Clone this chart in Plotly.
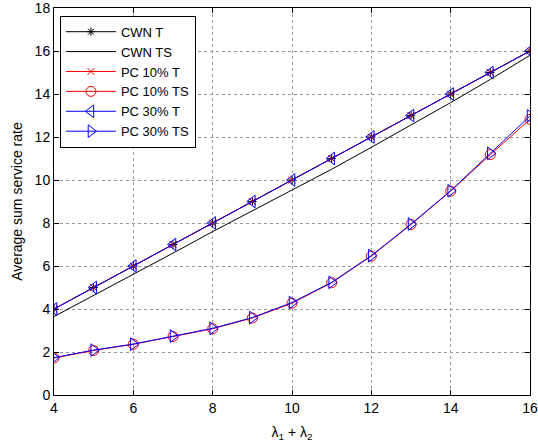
import plotly.graph_objects as go

x = [4, 5, 6, 7, 8, 9, 10, 11, 12, 13, 14, 15, 16]
cwn_t = [4, 5, 6, 7, 8, 9, 10, 11, 12, 13, 14, 15, 16]
cwn_ts = [3.65, 4.63, 5.6, 6.6, 7.6, 8.56, 9.52, 10.5, 11.52, 12.56, 13.6, 14.68, 15.8]
pc10_t = [4, 5, 6, 7, 8, 9, 10, 11, 12, 13, 14, 15, 16]
pc10_ts = [1.72, 2.07, 2.36, 2.72, 3.08, 3.58, 4.27, 5.22, 6.46, 7.93, 9.48, 11.18, 12.82]
pc30_t = [4, 5, 6, 7, 8, 9, 10, 11, 12, 13, 14, 15, 16]
pc30_ts = [1.74, 2.09, 2.37, 2.74, 3.1, 3.6, 4.3, 5.24, 6.48, 7.95, 9.5, 11.24, 12.98]

x_ticks = [4, 6, 8, 10, 12, 14, 16]
y_ticks = [0, 2, 4, 6, 8, 10, 12, 14, 16, 18]

fig = go.Figure()
fig.add_trace(go.Scatter(x=x, y=cwn_t, name="CWN T", mode="lines+markers",
                         line=dict(color="black", width=1),
                         marker=dict(symbol="asterisk-open", size=7, color="black", line=dict(width=1, color="black"))))
fig.add_trace(go.Scatter(x=x, y=cwn_ts, name="CWN TS", mode="lines",
                         line=dict(color="black", width=1)))
fig.add_trace(go.Scatter(x=x, y=pc10_t, name="PC 10% T", mode="lines+markers",
                         line=dict(color="red", width=1),
                         marker=dict(symbol="x-thin-open", size=7, color="red", line=dict(width=1, color="red"))))
fig.add_trace(go.Scatter(x=x, y=pc10_ts, name="PC 10% TS", mode="lines+markers",
                         line=dict(color="red", width=1),
                         marker=dict(symbol="circle-open", size=10, color="red", line=dict(width=1, color="red"))))
fig.add_trace(go.Scatter(x=x, y=pc30_t, name="PC 30% T", mode="lines+markers",
                         line=dict(color="blue", width=1),
                         marker=dict(symbol="triangle-left-open", size=11, color="blue", line=dict(width=1, color="blue"))))
fig.add_trace(go.Scatter(x=x, y=pc30_ts, name="PC 30% TS", mode="lines+markers",
                         line=dict(color="blue", width=1),
                         marker=dict(symbol="triangle-right-open", size=11, color="blue", line=dict(width=1, color="blue"))))

axis_common = dict(showline=True, linecolor="black", linewidth=1, mirror="ticks",
                   ticks="inside", ticklen=5, tickcolor="black",
                   showgrid=True, gridcolor="#9a9a9a", griddash="dot", gridwidth=1,
                   zeroline=False, tickfont=dict(size=14, color="black"),
                   ticklabeloverflow="allow", automargin=False)

fig.update_xaxes(range=[4, 16.0001], tickvals=x_ticks, ticktext=[str(v) for v in x_ticks],
                 title=dict(text="λ<sub>1</sub> + λ<sub>2</sub>", font=dict(size=14, color="black"), standoff=12),
                 **axis_common)
fig.update_yaxes(range=[0, 18.0001], tickvals=y_ticks, ticktext=[str(v) for v in y_ticks],
                 title=dict(text="Average sum service rate", font=dict(size=14, color="black"), standoff=8),
                 **axis_common)

fig.update_layout(
    width=538, height=447,
    margin=dict(l=54, r=8, t=8, b=52, autoexpand=False),
    plot_bgcolor="white", paper_bgcolor="white",
    font=dict(family="Liberation Sans, Arial, sans-serif", size=14, color="black"),
    legend=dict(x=0.0125, y=0.98, xanchor="left", yanchor="top",
                bgcolor="white", bordercolor="black", borderwidth=1,
                font=dict(size=13), itemwidth=50, tracegroupgap=0),
    showlegend=True,
)

fig.write_html("out.html")
